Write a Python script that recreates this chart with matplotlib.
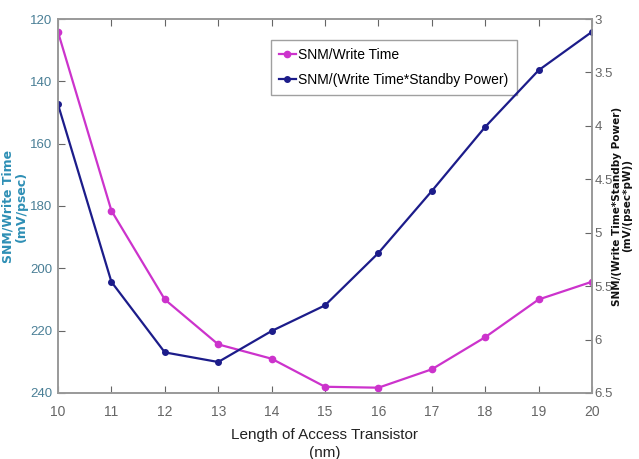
import matplotlib
matplotlib.use("Agg")
import matplotlib.pyplot as plt

length_nm = [10, 11, 12, 13, 14, 15, 16, 17, 18, 19, 20]
snm_write_time = [124.2, 181.5, 210.0, 224.4, 229.0, 238.0, 238.3, 232.4, 222.1, 210.0, 204.3]
snm_write_standby = [3.80, 5.46, 6.12, 6.21, 5.92, 5.68, 5.19, 4.61, 4.01, 3.48, 3.12]

left_ticks = [120, 140, 160, 180, 200, 220, 240]
right_ticks = [3, 3.5, 4, 4.5, 5, 5.5, 6, 6.5]
right_tick_labels = ["3", "3.5", "4", "4.5", "5", "5.5", "6", "6.5"]

plt.rcParams['font.family'] = ['Liberation Sans', 'DejaVu Sans']

pink = "#cc33cc"
navy = "#1c1c8a"
grey = "#666666"
teal = "#2e8fb5"

fig = plt.figure(figsize=(6.39, 4.59), dpi=100)
ax = fig.add_axes([0.0908, 0.1438, 0.8356, 0.8148])
ax2 = ax.twinx()

l1, = ax.plot(length_nm, snm_write_time, color=pink, marker='o', markersize=4.5,
              linewidth=1.6, label="SNM/Write Time")
l2, = ax2.plot(length_nm, snm_write_standby, color=navy, marker='o', markersize=4,
               linewidth=1.6, label="SNM/(Write Time*Standby Power)")

ax.set_xlim(10, 20)
ax.set_ylim(240, 120)
ax2.set_ylim(6.5, 3)
ax.set_xticks(length_nm)
ax.set_yticks(left_ticks)
ax2.set_yticks(right_ticks)
ax2.set_yticklabels(right_tick_labels)

ax.tick_params(axis='x', direction='in', top=True, colors=grey, labelsize=10, length=5, pad=9)
ax.tick_params(axis='y', direction='in', colors=grey, labelsize=9.5, length=5, pad=4)
ax.tick_params(axis='y', labelcolor="#4a7f96")
ax2.tick_params(axis='y', direction='in', colors=grey, labelsize=9.5, length=5, pad=2)
for a in (ax, ax2):
    for s in a.spines.values():
        s.set_color("#999999")
        s.set_linewidth(1.2)

ax.set_xlabel("Length of Access Transistor\n(nm)", fontsize=11, color="#222222",
              linespacing=1.35, labelpad=6)
ax.set_ylabel("SNM/Write Time\n(mV/psec)", fontsize=9, color=teal, fontweight='bold',
              family='DejaVu Sans', linespacing=1.05)
ax.yaxis.set_label_coords(-0.056, 0.5)
ax2.set_ylabel("SNM/(Write Time*Standby Power)\n(mV/(psec*pW))", fontsize=7.5, color="#111111",
               fontweight='bold', family='DejaVu Sans', linespacing=1.0)
ax2.yaxis.set_label_coords(1.038, 0.5)

leg = ax.legend(handles=[l1, l2], loc='upper left', bbox_to_anchor=(0.398, 0.945),
                fontsize=10, frameon=True, fancybox=False, handlelength=1.2,
                handletextpad=0.2, borderpad=0.6, labelspacing=0.8, borderaxespad=0)
leg.get_frame().set_edgecolor("#888888")
leg.get_frame().set_linewidth(1.0)

fig.savefig("out.png", dpi=100)
